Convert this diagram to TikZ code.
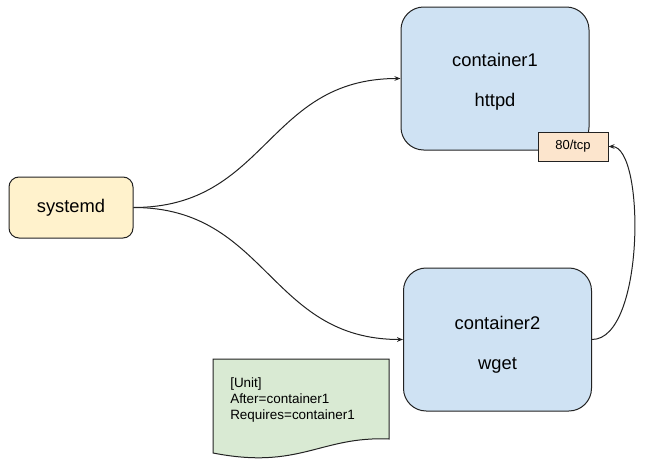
\documentclass[tikz,border=0pt]{standalone}
\usepackage{fontspec}
\setmainfont{Liberation Sans}
\usetikzlibrary{arrows.meta}
\definecolor{sysfill}{HTML}{FFF2CC}
\definecolor{ctfill}{HTML}{CFE2F3}
\definecolor{portfill}{HTML}{FCE5CD}
\definecolor{notefill}{HTML}{D9EAD3}
\definecolor{edgecol}{HTML}{222222}
\tikzset{
  boxbase/.style={draw=edgecol, line width=0.75pt, inner sep=0pt},
  sysbox/.style={boxbase, fill=sysfill, rounded corners=7.5pt, minimum width=93pt, minimum height=45.75pt,
    font=\fontsize{13.75}{16}\selectfont},
  ctbox/.style={boxbase, fill=ctfill, rounded corners=17pt, minimum width=141pt, minimum height=107.25pt},
  cttext/.style={inner sep=0pt, align=center, font=\fontsize{13.75}{30}\selectfont},
  portbox/.style={boxbase, fill=portfill, minimum width=52.5pt, minimum height=21.75pt,
    font=\fontsize{9.75}{12}\selectfont},
  notetext/.style={inner sep=0pt, align=left, anchor=north west, font=\fontsize{10.1}{12}\selectfont},
  conn/.style={draw=edgecol, line width=0.75pt, -{Stealth[length=4.5pt,width=3.5pt]}},
}
\begin{document}
\begin{tikzpicture}[x=0.75pt, y=-0.75pt]
\useasboundingbox (0,0) rectangle (647,475);
\node[sysbox] (systemd) at (71,207.5) {systemd};
\node[ctbox] (c1) at (495,78.5) {};
\node[cttext] (c1t) at (495,82.2) {container1\\httpd};
\node[portbox] (port) at (573,146.5) {80/tcp};
\node[ctbox] (c2) at (497.5,339.5) {};
\node[cttext] (c2t) at (497.5,345) {container2\\wget};
\draw[draw=edgecol, line width=0.75pt, fill=notefill]
  (213,359) -- (389,359) -- (389,439) .. controls (320,436) and (300,470) .. (213,453) -- cycle;
\node[notetext] (note) at (230,377) {[Unit]\\After=container1\\Requires=container1};
\draw[conn] (systemd.east) .. controls +(134,0) and +(-134,0) .. (c1.west);
\draw[conn] (systemd.east) .. controls +(134,0) and +(-134,0) .. (c2.west);
\draw[conn] (c2.east) .. controls +(53,0) and +(37,0) .. (port.east);
\end{tikzpicture}
\end{document}
